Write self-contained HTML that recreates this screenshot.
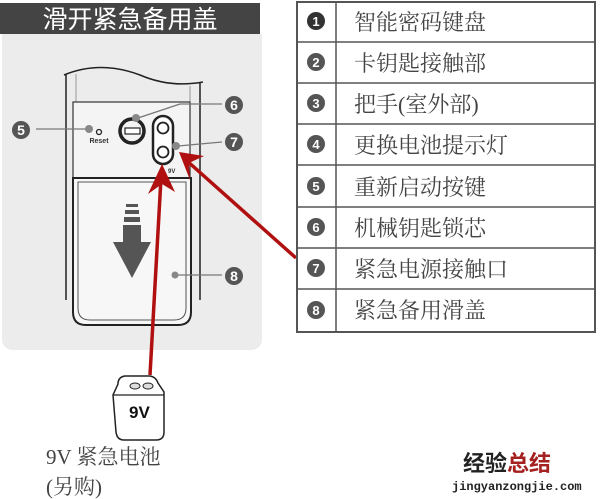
<!DOCTYPE html>
<html><head><meta charset="utf-8">
<style>
html,body{margin:0;padding:0;background:#fff;width:600px;height:499px;overflow:hidden}
svg{display:block}
</style></head><body>
<svg width="600" height="499" viewBox="0 0 600 499" xmlns="http://www.w3.org/2000/svg">
<path d="M2 34 H262 V338 Q262 350 250 350 H14 Q2 350 2 338 Z" fill="#ececec"/>
<rect x="0" y="3" width="260" height="31" fill="#444"/>
<text x="130" y="28" fill="#fff" font-family="Liberation Sans, Noto Sans CJK SC, sans-serif" font-size="25" text-anchor="middle">滑开紧急备用盖</text>

<g fill="none" stroke="#222" stroke-width="1.5">
<path d="M64 75 Q100 60 140 75 Q170 88 203 82"/>
<path d="M66 74 V300" />
<path d="M200 82 V300" />
<path d="M76 74 V300" stroke="#999" stroke-width="1"/>
<path d="M190 86 V300" stroke="#999" stroke-width="1"/>
</g>
<rect x="73" y="102" width="117" height="76" fill="#f4f4f4" stroke="#333" stroke-width="1.2"/>
<path d="M73 178 H191 V312 Q191 325 178 325 H86 Q73 325 73 312 Z" fill="#f7f7f7" stroke="#222" stroke-width="2"/>
<path d="M78 182 H186 V308 Q186 320 174 320 H90 Q78 320 78 308 Z" fill="none" stroke="#555" stroke-width="1"/>
<g fill="#555">
<rect x="126" y="204" width="12" height="3"/>
<rect x="125" y="210" width="14" height="4"/>
<rect x="124" y="217" width="16" height="5"/>
<rect x="123" y="225" width="18" height="17"/>
<polygon points="113,242 151,242 132,278"/>
</g>
<circle cx="99" cy="132" r="2.5" fill="none" stroke="#222" stroke-width="1.3"/>
<text x="99" y="143" font-family="Liberation Sans, sans-serif" font-size="7" font-weight="bold" text-anchor="middle" fill="#333">Reset</text>
<circle cx="132" cy="131" r="12" fill="none" stroke="#222" stroke-width="3.5"/>
<rect x="125" y="128" width="15" height="6" fill="#fff" stroke="#222" stroke-width="1.2"/>
<rect x="153" y="116" width="20" height="48" rx="10" fill="#fff" stroke="#222" stroke-width="2.5"/>
<circle cx="163" cy="128" r="5.5" fill="#fff" stroke="#222" stroke-width="1.8"/>
<circle cx="163" cy="152" r="5.5" fill="#fff" stroke="#222" stroke-width="1.8"/>
<text x="168" y="173" font-family="Liberation Sans, sans-serif" font-size="6" font-weight="bold" fill="#333">9V</text>

<g stroke="#777" stroke-width="1.3">
<line x1="36" y1="129" x2="88" y2="129"/>
<line x1="138" y1="118" x2="180" y2="104"/><line x1="180" y1="104" x2="222" y2="104"/>
<line x1="178" y1="146" x2="222" y2="142"/>
<line x1="176" y1="275" x2="222" y2="275"/>
</g>
<g fill="#888">
<circle cx="89" cy="129" r="4"/>
<circle cx="136" cy="118" r="4"/>
<circle cx="176" cy="146" r="4"/>
<circle cx="175" cy="275" r="3.5"/>
</g>
<g font-family="Liberation Sans, sans-serif" font-size="14" font-weight="bold" fill="#fff" text-anchor="middle">
<circle cx="21" cy="130" r="9" fill="#555"/><text x="21" y="135">5</text>
<circle cx="234" cy="105" r="9" fill="#555"/><text x="234" y="110">6</text>
<circle cx="234" cy="142" r="9" fill="#555"/><text x="234" y="147">7</text>
<circle cx="234" cy="276" r="9" fill="#555"/><text x="234" y="281">8</text>
</g>

<g stroke="#b01010" stroke-width="3.5" fill="#b01010">
<line x1="150" y1="375" x2="161" y2="178"/>
<line x1="296" y1="258" x2="186" y2="160"/>
</g>
<polygon points="162,164 148,194 162,184 175,192" fill="#b01010"/>
<polygon points="179,152 190,180 189,163 204,156" fill="#b01010"/>

<path d="M118 384 Q118 377 125 376 L150 376 Q156 377 158 383 L164 392 V432 Q164 440 156 440 H124 Q117 440 116 432 L113 395 Z" fill="#fff" stroke="#222" stroke-width="1.5"/>
<path d="M113 395 H164" stroke="#222" stroke-width="1.2"/>
<ellipse cx="135" cy="386" rx="5" ry="3" fill="#ddd" stroke="#222"/>
<ellipse cx="148" cy="386" rx="5" ry="3" fill="#ddd" stroke="#222"/>
<text x="129" y="418" font-family="Liberation Sans, sans-serif" font-size="17" font-weight="bold" fill="#111">9V</text>

<g font-family="Liberation Serif, Noto Serif CJK SC, serif" font-size="21" fill="#444">
<text x="46" y="464">9V 紧急电池</text>
<text x="46" y="494">(另购)</text>
</g>

<text x="463" y="471" font-family="Liberation Sans, Noto Sans CJK SC, sans-serif" font-size="22" font-weight="bold" fill="#222">经验<tspan fill="#a52020">总结</tspan></text>
<text x="452" y="490" font-family="Liberation Mono, monospace" font-size="12" font-weight="bold" fill="#222">jingyanzongjie.com</text>

<rect x="297" y="2" width="298" height="330" fill="#fff" stroke="#555" stroke-width="2"/>
<line x1="336" y1="2" x2="336" y2="332" stroke="#555" stroke-width="1.5"/>
<g stroke="#555" stroke-width="1.5">
<line x1="297" y1="42" x2="595" y2="42"/>
<line x1="297" y1="83" x2="595" y2="83"/>
<line x1="297" y1="124" x2="595" y2="124"/>
<line x1="297" y1="165" x2="595" y2="165"/>
<line x1="297" y1="207" x2="595" y2="207"/>
<line x1="297" y1="248" x2="595" y2="248"/>
<line x1="297" y1="289" x2="595" y2="289"/>
</g>
<g font-family="Liberation Sans, sans-serif" font-size="13" font-weight="bold" fill="#fff" text-anchor="middle">
<circle cx="316" cy="21" r="9" fill="#333"/><text x="316" y="26">1</text>
<circle cx="316" cy="62" r="9" fill="#555"/><text x="316" y="67">2</text>
<circle cx="316" cy="103" r="9" fill="#555"/><text x="316" y="108">3</text>
<circle cx="316" cy="144" r="9" fill="#555"/><text x="316" y="149">4</text>
<circle cx="316" cy="186" r="9" fill="#555"/><text x="316" y="191">5</text>
<circle cx="316" cy="227" r="9" fill="#555"/><text x="316" y="232">6</text>
<circle cx="316" cy="268" r="9" fill="#555"/><text x="316" y="273">7</text>
<circle cx="316" cy="310" r="9" fill="#555"/><text x="316" y="315">8</text>
</g>
<g font-family="Liberation Serif, Noto Serif CJK SC, serif" font-size="22" fill="#444">
<text x="354" y="30">智能密码键盘</text>
<text x="354" y="71">卡钥匙接触部</text>
<text x="354" y="112">把手(室外部)</text>
<text x="354" y="153">更换电池提示灯</text>
<text x="354" y="195">重新启动按键</text>
<text x="354" y="236">机械钥匙锁芯</text>
<text x="354" y="277">紧急电源接触口</text>
<text x="354" y="318">紧急备用滑盖</text>
</g>
</svg>
</body></html>
